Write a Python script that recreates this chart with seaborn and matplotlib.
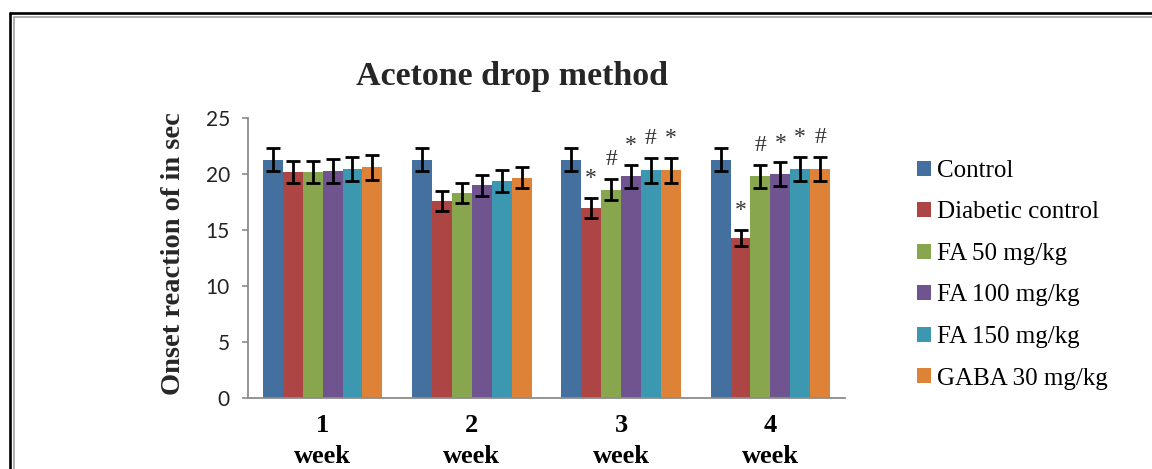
import matplotlib
matplotlib.use("Agg")
import matplotlib.pyplot as plt
from matplotlib.lines import Line2D
from matplotlib.patches import Patch
import pandas as pd
import seaborn as sns

# ---- data -------------------------------------------------------------
weeks = ["1\nweek", "2\nweek", "3\nweek", "4\nweek"]
groups = ["Control", "Diabetic control", "FA 50 mg/kg",
          "FA 100 mg/kg", "FA 150 mg/kg", "GABA 30 mg/kg"]

control = [21.3, 21.3, 21.3, 21.3]
diabetic = [20.2, 17.6, 17.0, 14.3]
fa50 = [20.2, 18.3, 18.6, 19.8]
fa100 = [20.3, 19.0, 19.8, 20.0]
fa150 = [20.45, 19.4, 20.35, 20.45]
gaba = [20.6, 19.7, 20.35, 20.45]

control_err = [1.0, 1.0, 1.0, 1.0]
diabetic_err = [1.0, 0.9, 0.9, 0.75]
fa50_err = [1.0, 0.9, 0.95, 1.05]
fa100_err = [1.05, 0.95, 1.05, 1.05]
fa150_err = [1.05, 0.95, 1.1, 1.1]
gaba_err = [1.1, 0.95, 1.1, 1.1]

# significance marks (* vs control, # vs diabetic control)
control_sig = ["", "", "", ""]
diabetic_sig = ["", "", "*", "*"]
fa50_sig = ["", "", "#", "#"]
fa100_sig = ["", "", "*", "*"]
fa150_sig = ["", "", "#", "*"]
gaba_sig = ["", "", "*", "#"]

yticks = [0, 5, 10, 15, 20, 25]

colors = ["#44709F", "#AC4543", "#88A64E", "#6F5490", "#3C98B0", "#DE8237"]

series = [control, diabetic, fa50, fa100, fa150, gaba]
errors = [control_err, diabetic_err, fa50_err, fa100_err, fa150_err, gaba_err]
marks = [control_sig, diabetic_sig, fa50_sig, fa100_sig, fa150_sig, gaba_sig]

df = pd.DataFrame(
    [(w, g, v) for g, vals in zip(groups, series) for w, v in zip(weeks, vals)],
    columns=["week", "group", "value"],
)

# ---- style ------------------------------------------------------------
sns.set_style("white")
plt.rcParams["font.family"] = ["Liberation Serif", "DejaVu Serif"]

W, H = 1152, 469
fig = plt.figure(figsize=(W / 100, H / 100), dpi=100)
ax = fig.add_axes([248 / W, 71.3 / H, 597 / W, 279.4 / H])

sns.barplot(data=df, x="week", y="value", hue="group", hue_order=groups,
            order=weeks, palette=colors, saturation=1, errorbar=None,
            legend=False, ax=ax, linewidth=0)

# error bars and significance marks on top of each bar
for cont, vals, errs, sig in zip(ax.containers, series, errors, marks):
    for bar, v, e, s in zip(cont, vals, errs, sig):
        xc = bar.get_x() + bar.get_width() / 2
        ax.errorbar(xc, v, yerr=e, fmt="none", ecolor="black",
                    elinewidth=2.0, capsize=5, capthick=2.0, zorder=5)
        if s:
            ax.annotate(s, (xc, v + e), xytext=(0, 14),
                        textcoords="offset points", ha="center",
                        va="center", fontsize=17, color="#333333")

ax.set_ylim(0, 25)
ax.set_yticks(yticks)
ax.set_xlim(-0.5, 3.5)
ax.set_xlabel("")
ax.set_ylabel("")

for side in ["top", "right"]:
    ax.spines[side].set_visible(False)
for side in ["left", "bottom"]:
    ax.spines[side].set_color("#8c8c8c")
    ax.spines[side].set_linewidth(1.3)

ax.tick_params(axis="y", length=4, width=1.2, color="#8c8c8c", pad=9,
               labelsize=15, labelcolor="#222222", left=True)
for lbl in ax.get_yticklabels():
    lbl.set_family(["Lato", "DejaVu Sans"])

ax.tick_params(axis="x", length=0, pad=12)
for lbl in ax.get_xticklabels():
    lbl.set_family(["Liberation Serif", "DejaVu Serif"])
    lbl.set_fontweight("bold")
    lbl.set_fontsize(19)
    lbl.set_linespacing(1.4)
    lbl.set_color("black")

# title and axis label
fig.text(512 / W, 1 - 76 / H, "Acetone drop method", ha="center",
         va="center", fontsize=24.5, fontweight="bold")
fig.text(173 / W, 1 - 254 / H, "Onset reaction of in sec", ha="center",
         va="center", rotation=90, fontsize=20.5, fontweight="bold")

# legend
handles = [Patch(facecolor=c, edgecolor="none") for c in colors]
fig.legend(handles, groups, loc="upper left",
           bbox_to_anchor=(917 / W, 1 - 160 / H), frameon=False,
           fontsize=18, handlelength=0.55, handleheight=0.55,
           handletextpad=0.25, labelspacing=0.78, borderpad=0,
           borderaxespad=0, labelcolor="black")

# chart frame (open at the bottom)
fig.add_artist(Line2D([10 / W, 10 / W], [0, 1 - 13.5 / H], color="black",
                      lw=1.9, transform=fig.transFigure))
fig.add_artist(Line2D([10 / W, 1], [1 - 13.5 / H, 1 - 13.5 / H],
                      color="black", lw=1.9, transform=fig.transFigure))
fig.add_artist(Line2D([14 / W, 14 / W], [0, 1 - 17 / H], color="#a8a8a8",
                      lw=1.3, transform=fig.transFigure))
fig.add_artist(Line2D([14 / W, 1], [1 - 17 / H, 1 - 17 / H],
                      color="#a8a8a8", lw=1.3, transform=fig.transFigure))

fig.savefig("out.png", dpi=100)
